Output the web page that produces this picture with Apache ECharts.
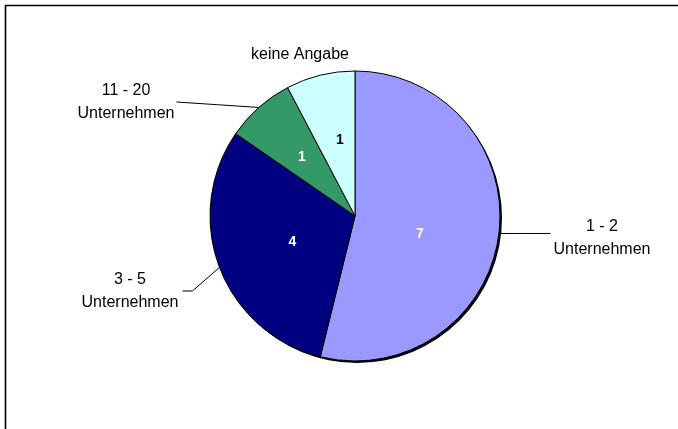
<!DOCTYPE html>
<html>
<head>
<meta charset="utf-8">
<script src="https://cdn.jsdelivr.net/npm/echarts@6/dist/echarts.min.js"></script>
<style>
html,body{margin:0;padding:0;background:#fff;}
#chart{width:678px;height:429px;}
</style>
</head>
<body>
<div id="chart"></div>
<script>
// ---- data ----
var categories = ['1 - 2\nUnternehmen', '3 - 5\nUnternehmen', '11 - 20\nUnternehmen', 'keine Angabe'];
var values = [7, 4, 1, 1];
var colors = ['#9999FF', '#000080', '#339966', '#CCFFFF'];
var valueLabelColors = ['#FFFFFF', '#FFFFFF', '#FFFFFF', '#000000'];

// ---- layout ----
var CENTER = [355, 216];
var RADIUS = 145;
var TEXT_FONT = "'Liberation Sans', Arial, sans-serif";
// outer label centres (text positions) and leader style
var labelPos = [
  {x: 602, y: 238, side: 'left', gap: 3, straight: true},
  {x: 130, y: 291, side: 'right', gap: 4, elbow: 10},
  {x: 126, y: 102, side: 'right', gap: 2},
  {x: 300, y: 55, side: null}
];
// small nudges of the inside value labels
var valueOffsets = [[-10, 9], [8, -1], [-3, -2], [3, -3]];

var total = values.reduce(function (a, b) { return a + b; }, 0);

var mainData = categories.map(function (c, i) {
  return {
    name: c, value: values[i],
    itemStyle: {color: colors[i]},
    label: {color: valueLabelColors[i], offset: valueOffsets[i]}
  };
});
var overlayData = categories.map(function (c, i) {
  return {
    name: c, value: values[i],
    labelLine: {show: labelPos[i].side !== null}
  };
});

var chart = echarts.init(document.getElementById('chart'), null, {renderer: 'canvas'});
chart.setOption({
  animation: false,
  backgroundColor: '#fff',
  graphic: [{
    type: 'rect', silent: true,
    shape: {x: 5.5, y: 5.5, width: 720, height: 480},
    style: {fill: null, stroke: '#000', lineWidth: 1.6}
  }],
  series: [
    {
      type: 'pie', silent: true, center: [CENTER[0] + 2, CENTER[1] + 2], radius: RADIUS,
      data: [{name: 'shadow', value: total}],
      itemStyle: {color: '#000'}, label: {show: false}, labelLine: {show: false}
    },
    {
      type: 'pie', silent: true, center: CENTER, radius: RADIUS,
      startAngle: 90, clockwise: true,
      avoidLabelOverlap: false,
      data: mainData,
      itemStyle: {borderColor: '#000', borderWidth: 1},
      label: {
        show: true, position: 'inside',
        formatter: '{c}',
        fontFamily: TEXT_FONT,
        fontWeight: 'bold', fontSize: 14
      },
      labelLine: {show: false}
    },
    {
      type: 'pie', silent: true, center: CENTER, radius: RADIUS,
      startAngle: 90, clockwise: true,
      avoidLabelOverlap: false,
      data: overlayData,
      itemStyle: {color: 'rgba(0,0,0,0)', borderWidth: 0},
      label: {
        show: true, position: 'outside',
        formatter: function (p) {
          return p.name.split('\n').map(function (s) { return '{t|' + s + '}'; }).join('\n');
        },
        rich: {
          t: {align: 'center', fontFamily: TEXT_FONT, fontSize: 16, lineHeight: 23, color: '#000'}
        }
      },
      labelLine: {show: true, length: 10, length2: 10, lineStyle: {color: '#000', width: 1}},
      labelLayout: function (p) {
        var lp = labelPos[p.dataIndex];
        var w = p.labelRect.width;
        var res = {x: lp.x, y: lp.y, align: 'center', verticalAlign: 'middle'};
        if (lp.side && p.labelLinePoints) {
          var start = p.labelLinePoints[0];
          var endX = lp.side === 'left' ? lp.x - w / 2 - lp.gap : lp.x + w / 2 + lp.gap;
          var end, mid;
          if (lp.straight) {
            end = [endX, start[1]];
            mid = [(start[0] + endX) / 2, start[1]];
          } else if (lp.elbow) {
            end = [endX, lp.y];
            mid = [endX + lp.elbow, lp.y];
          } else {
            end = [endX, lp.y];
            mid = [(start[0] + endX) / 2, (start[1] + lp.y) / 2];
          }
          res.labelLinePoints = [start, mid, end];
        }
        return res;
      }
    }
  ]
});
</script>
</body>
</html>
